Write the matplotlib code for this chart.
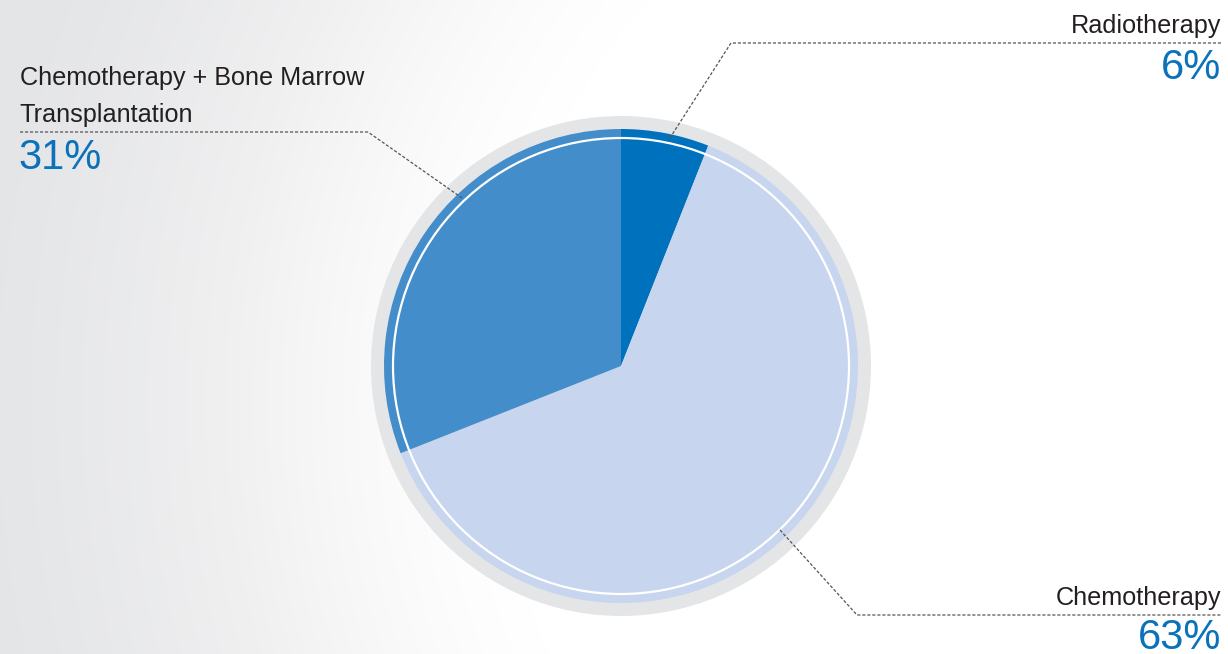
import numpy as np
import matplotlib
matplotlib.use("Agg")
import matplotlib.pyplot as plt
from matplotlib.patches import Circle
from matplotlib.colors import LinearSegmentedColormap

# ---- data ----
labels = ["Radiotherapy", "Chemotherapy", "Chemotherapy + Bone Marrow\nTransplantation"]
values = [6, 63, 31]
pct_labels = ["6%", "63%", "31%"]
colors = ["#0071BC", "#C7D5EE", "#438DCA"]

W, H = 1228, 654
fig = plt.figure(figsize=(W / 100, H / 100), dpi=100)
ax = fig.add_axes([0, 0, 1, 1])

def Y(y):
    return H - y

# background: soft gradient, white on the right, gray toward the left / bottom-left
xs = np.arange(W)
ys = np.arange(H)
XX, YY = np.meshgrid(xs, ys)
d = np.sqrt((XX - 1100.0) ** 2 + (YY - 250.0) ** 2)
t = np.clip((d - 600.0) / (1150.0 - 600.0), 0, 1)
t = t * t * (3 - 2 * t) * 0.6 + t * 0.4
cmap = LinearSegmentedColormap.from_list("bg", ["#FFFFFF", "#F0F0F1", "#E4E5E7"])
ax.imshow(t, cmap=cmap, extent=[0, W, H, 0], origin="upper", zorder=0, aspect="auto", vmin=0, vmax=1)

cx, cy = 621, Y(366)
ax.add_patch(Circle((cx, cy), 250, facecolor="#E4E5E7", edgecolor="none", zorder=1))
wedges, _ = ax.pie(values, colors=colors, startangle=90, counterclock=False,
                   radius=237, center=(cx, cy), wedgeprops=dict(linewidth=0))
for w in wedges:
    w.set_zorder(2)
ax.add_patch(Circle((cx, cy), 228, facecolor="none", edgecolor="white", linewidth=1.6, zorder=3))

ax.set_xlim(0, W)
ax.set_ylim(0, H)
ax.set_aspect("auto")
ax.axis("off")

font = "Liberation Sans"
lab_size = 18.2
pct_size = 30
blue = "#0A72BA"
dark = "#231F20"
ls = dict(color="#555555", lw=0.9, linestyle=(0, (2.5, 1.5)), zorder=4)

# Chemotherapy + BMT (left)
ax.text(20, Y(85), "Chemotherapy + Bone Marrow", fontsize=lab_size, family=font, color=dark, va="baseline", ha="left")
ax.text(19, Y(122), "Transplantation", fontsize=lab_size, family=font, color=dark, va="baseline", ha="left")
ax.text(18, Y(169), pct_labels[2], fontsize=pct_size, family=font, color=blue, va="baseline", ha="left")
ax.plot([20, 368, 462], [Y(132), Y(132), Y(198)], **ls)

# Radiotherapy (top right)
ax.text(1221, Y(33), labels[0], fontsize=lab_size, family=font, color=dark, va="baseline", ha="right")
ax.text(1221, Y(79), pct_labels[0], fontsize=pct_size, family=font, color=blue, va="baseline", ha="right")
ax.plot([1221, 731, 668], [Y(43), Y(43), Y(141)], **ls)

# Chemotherapy (bottom right)
ax.text(1221, Y(605), labels[1], fontsize=lab_size, family=font, color=dark, va="baseline", ha="right")
ax.text(1221, Y(649), pct_labels[1], fontsize=pct_size, family=font, color=blue, va="baseline", ha="right")
ax.plot([780, 857, 1222], [Y(530), Y(615), Y(615)], **ls)

fig.savefig("out.png", dpi=100)
